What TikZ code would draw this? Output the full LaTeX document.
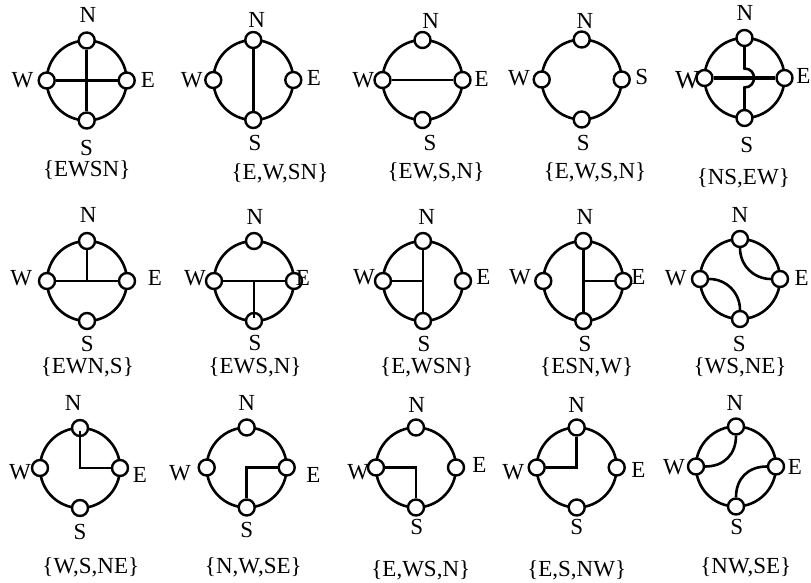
\documentclass[tikz,border=0pt]{standalone}
\usepackage{fontspec}
\setmainfont{Liberation Serif}
\usetikzlibrary{calc}
\tikzset{
  ring/.style={circle, draw, line width=2.6pt, minimum size=80pt, inner sep=0pt, outer sep=0pt},
  port/.style={circle, draw, fill=white, line width=2.4pt, minimum size=16pt, inner sep=0pt},
  wire/.style={line width=2.6pt},
  boldwire/.style={line width=3.4pt},
  lbl/.style={inner sep=0pt, font=\fontsize{23}{27}\selectfont},
  biglbl/.style={inner sep=0pt, font=\fontsize{26}{30}\selectfont},
}
\newcommand\compass[3]{%
  \node[ring] (C#1) at (#2,#3) {};
  \node[port] (N#1) at (C#1.north) {};
  \node[port] (S#1) at (C#1.south) {};
  \node[port] (W#1) at (C#1.west) {};
  \node[port] (E#1) at (C#1.east) {};
}
\newcommand\plabel[4]{\node[lbl] (#1) at (#2,#3) {#4};}
\begin{document}
\begin{tikzpicture}[x=1pt,y=-1pt]
\useasboundingbox (0,0) rectangle (811,583);
% ---------- row 1 ----------
\compass{1}{86.7}{80.5}
\draw[wire] (W1) -- (E1);
\draw[wire] (N1) -- (S1);
\plabel{n1}{88}{15}{N}\plabel{w1}{22.5}{80}{W}\plabel{e1}{147.8}{80}{E}\plabel{s1}{86.5}{148}{S}
\plabel{c1}{86.7}{170}{\{EWSN\}}

\compass{2}{253.3}{80}
\draw[wire] (N2) -- (S2);
\plabel{n2}{256.7}{20}{N}\plabel{w2}{191.7}{80}{W}\plabel{e2}{314}{78}{E}\plabel{s2}{255}{143}{S}
\plabel{c2}{280}{173}{\{E,W,SN\}}

\compass{3}{422.5}{80}
\draw[wire] (W3) -- (E3);
\plabel{n3}{430.7}{21}{N}\plabel{w3}{363.3}{80}{W}\plabel{e3}{481.7}{79}{E}\plabel{s3}{430}{143}{S}
\plabel{c3}{436}{172}{\{EW,S,N\}}

\compass{4}{581.7}{79.5}
\plabel{n4}{585}{21}{N}\plabel{w4}{519}{78}{W}\plabel{e4}{641.7}{77}{S}\plabel{s4}{583.3}{143}{S}
\plabel{c4}{595}{172}{\{E,W,S,N\}}

\compass{5}{744.5}{78}
\coordinate (j5a) at ($(C5.center)+(0,-9.5)$);
\coordinate (j5b) at ($(C5.center)+(0,9.5)$);
\draw[boldwire] (W5) -- (E5);
\draw[wire] (N5) -- (j5a) .. controls +(12.7,0) and +(12.7,0) .. (j5b) -- (S5);
\plabel{n5}{745}{13}{N}\node[biglbl] (w5) at (687.5,80) {W};\plabel{e5}{803.3}{76}{E}\plabel{s5}{746.7}{145}{S}
\plabel{c5}{743.3}{178}{\{NS,EW\}}

% ---------- row 2 ----------
\compass{6}{87}{281}
\draw[wire] (W6) -- (E6);
\draw[wire] (N6) -- (C6.center);
\plabel{n6}{88.3}{215}{N}\plabel{w6}{21.3}{278}{W}\plabel{e6}{155}{278}{E}\plabel{s6}{87.3}{343.5}{S}
\plabel{c6}{87.3}{367}{\{EWN,S\}}

\compass{7}{254}{281}
\draw[wire] (W7) -- (E7);
\draw[wire] (C7.center) -- ($(S7.center)+(0,-3)$);
\plabel{n7}{255}{216.7}{N}\plabel{w7}{195}{278}{W}\plabel{e7}{303}{278}{E}\plabel{s7}{255}{343}{S}
\plabel{c7}{255}{367}{\{EWS,N\}}

\compass{8}{423}{281}
\draw[wire] (N8) -- (S8);
\draw[wire] (W8) -- (C8.center);
\plabel{n8}{426.7}{216.7}{N}\plabel{w8}{364}{277}{W}\plabel{e8}{483.3}{277}{E}\plabel{s8}{424}{343.5}{S}
\plabel{c8}{426.7}{367}{\{E,WSN\}}

\compass{9}{583.3}{281}
\draw[wire] (N9) -- (S9);
\draw[wire] (C9.center) -- (E9);
\plabel{n9}{585}{216.7}{N}\plabel{w9}{520}{277}{W}\plabel{e9}{638.3}{277}{E}\plabel{s9}{585}{343.5}{S}
\plabel{c9}{586.7}{367}{\{ESN,W\}}

\compass{10}{740}{279}
\draw[wire] (N10.south) to[out=-90,in=180] (E10.west);
\draw[wire] (W10.east) to[out=0,in=90] (S10.north);
\plabel{n10}{740}{215}{N}\plabel{w10}{675.8}{278}{W}\plabel{e10}{801.7}{278}{E}\plabel{s10}{739.3}{343.5}{S}
\plabel{c10}{740}{367.5}{\{WS,NE\}}

% ---------- row 3 ----------
\compass{11}{80}{468}
\draw[wire] ($(N11.center)+(0,3)$) |- (E11);
\plabel{n11}{73.3}{403.3}{N}\plabel{w11}{20}{471.7}{W}\plabel{e11}{140}{475}{E}\plabel{s11}{80}{531.7}{S}
\plabel{c11}{90.8}{567}{\{W,S,NE\}}

\compass{12}{246.7}{467.5}
\draw[wire] (S12) |- (E12);
\plabel{n12}{246.7}{403.3}{N}\plabel{w12}{180}{473.3}{W}\plabel{e12}{313.3}{475}{E}\plabel{s12}{246.7}{530}{S}
\plabel{c12}{253.3}{567}{\{N,W,SE\}}

\compass{13}{416}{467.5}
\draw[wire] (W13) -| (S13);
\plabel{n13}{416.7}{405}{N}\plabel{w13}{358.3}{471.7}{W}\plabel{e13}{479.3}{465}{E}\plabel{s13}{416.7}{526.7}{S}
\plabel{c13}{420.8}{570}{\{E,WS,N\}}

\compass{14}{576.7}{467.5}
\draw[wire] (N14) |- (W14);
\plabel{n14}{576.7}{405}{N}\plabel{w14}{513.3}{471.7}{W}\plabel{e14}{638.3}{470}{E}\plabel{s14}{576.7}{526.7}{S}
\plabel{c14}{576.7}{570}{\{E,S,NW\}}

\compass{15}{736}{466.5}
\draw[wire] (N15.south) to[out=-90,in=0,looseness=1.1] (W15.east);
\draw[wire] (S15.north) to[out=90,in=180,looseness=1.1] (E15.west);
\plabel{n15}{735}{403.3}{N}\plabel{w15}{674}{466.7}{W}\plabel{e15}{795}{466.7}{E}\plabel{s15}{736.7}{526.7}{S}
\plabel{c15}{745.8}{567}{\{NW,SE\}}
\end{tikzpicture}
\end{document}
